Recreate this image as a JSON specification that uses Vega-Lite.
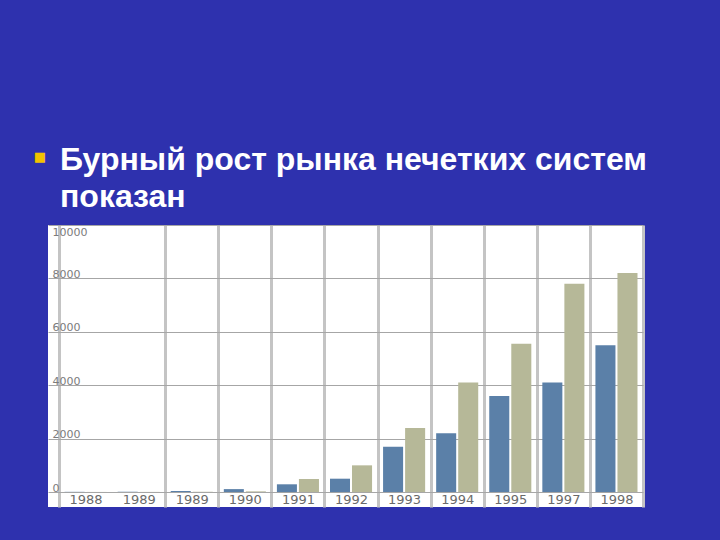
{
  "$schema": "https://vega.github.io/schema/vega-lite/v6.json",
  "autosize": {"type": "none"},
  "width": 595,
  "height": 282,
  "padding": {"left": 48, "top": 225, "right": 77, "bottom": 33},
  "background": "#2e31ae",
  "view": {"fill": "white", "stroke": null},
  "title": {
    "text": ["Бурный рост рынка нечетких систем", "показан"],
    "anchor": "start",
    "frame": "group",
    "dx": 12,
    "offset": -64,
    "font": "Liberation Sans",
    "fontSize": 32,
    "fontWeight": "bold",
    "color": "white",
    "lineHeight": 37
  },
  "data": {
    "values": [
      {"year": "1988", "series": "a", "value": 8},
      {"year": "1988", "series": "b", "value": 4},
      {"year": "1989", "series": "a", "value": 10},
      {"year": "1989", "series": "b", "value": 5},
      {"year": "1989\u200b", "series": "a", "value": 35},
      {"year": "1989\u200b", "series": "b", "value": 10},
      {"year": "1990", "series": "a", "value": 110},
      {"year": "1990", "series": "b", "value": 25},
      {"year": "1991", "series": "a", "value": 290},
      {"year": "1991", "series": "b", "value": 490},
      {"year": "1992", "series": "a", "value": 500},
      {"year": "1992", "series": "b", "value": 1000},
      {"year": "1993", "series": "a", "value": 1700},
      {"year": "1993", "series": "b", "value": 2400},
      {"year": "1994", "series": "a", "value": 2200},
      {"year": "1994", "series": "b", "value": 4100},
      {"year": "1995", "series": "a", "value": 3600},
      {"year": "1995", "series": "b", "value": 5550},
      {"year": "1997", "series": "a", "value": 4100},
      {"year": "1997", "series": "b", "value": 7800},
      {"year": "1998", "series": "a", "value": 5500},
      {"year": "1998", "series": "b", "value": 8200}
    ]
  },
  "mark": {"type": "bar"},
  "encoding": {
    "x": {
      "field": "year",
      "type": "nominal",
      "sort": null,
      "scale": {"paddingInner": 0, "paddingOuter": 0.104, "align": 1},
      "axis": {
        "title": "■",
        "titleColor": "#f2c200",
        "titleFont": "DejaVu Sans",
        "titleFontSize": 13,
        "titleFontWeight": "normal",
        "titleX": -8.5,
        "titleY": -351,
        "titleBaseline": "middle",
        "titleAlign": "center",
        "labelAngle": 0,
        "labelPadding": -1,
        "labelBaseline": "bottom",
        "ticks": false,
        "tickSize": 0,
        "domain": false,
        "grid": true,
        "tickBand": "extent",
        "gridColor": "#c4c4c4",
        "gridWidth": 3,
        "gridOpacity": {"condition": {"test": "datum.index === 0", "value": 0}, "value": 1},
        "labelFont": "DejaVu Sans",
        "labelFontSize": 13,
        "labelColor": "#6a6a6a"
      }
    },
    "xOffset": {
      "field": "series",
      "type": "nominal",
      "scale": {"paddingInner": 0.091, "paddingOuter": 0.25}
    },
    "y": {
      "field": "value",
      "type": "quantitative",
      "scale": {"domain": [-560, 10000], "nice": false, "zero": false},
      "axis": {
        "values": [0, 2000, 4000, 6000, 8000, 10000],
        "format": "d",
        "title": null,
        "ticks": false,
        "tickSize": 0,
        "domain": false,
        "labelAlign": "left",
        "labelBaseline": "middle",
        "labelOffset": {"condition": {"test": "datum.value === 10000", "value": 7}, "value": -4},
        "labelPadding": -4,
        "labelFont": "DejaVu Sans",
        "labelFontSize": 11,
        "labelColor": "#7c7c7c",
        "gridColor": "#a6a6a6",
        "gridWidth": 1
      }
    },
    "color": {
      "field": "series",
      "type": "nominal",
      "scale": {"domain": ["a", "b"], "range": ["#5b80a8", "#b6b898"]},
      "legend": null
    }
  }
}
